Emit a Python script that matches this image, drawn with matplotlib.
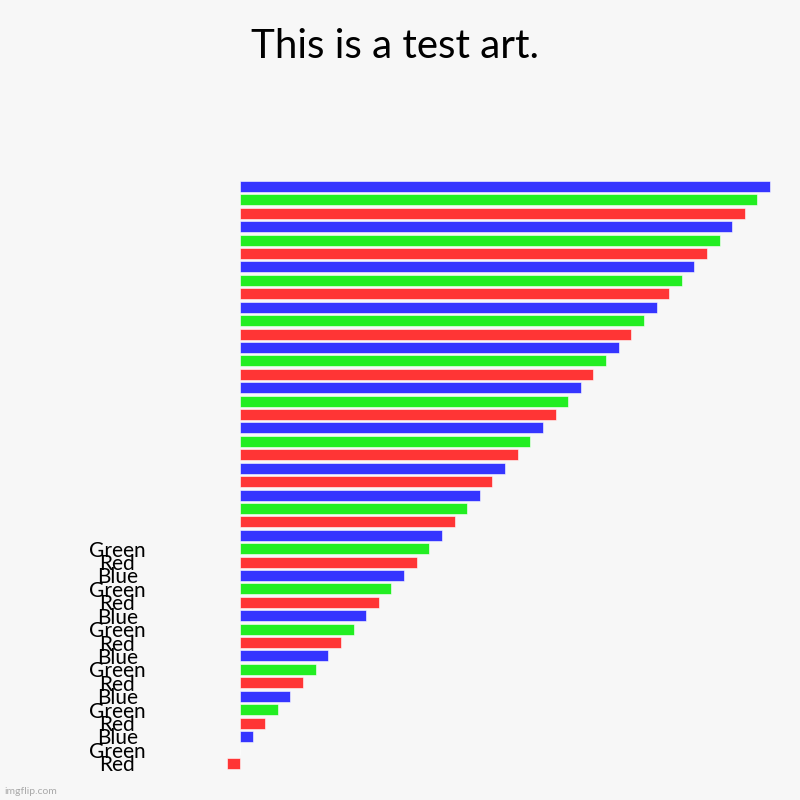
import matplotlib
matplotlib.use('Agg')
import matplotlib.pyplot as plt

# Bar data, listed bottom to top
values = list(range(-1, 43))
colors = ['Red', 'Green', 'Blue'] * 7 + ['Red', 'Blue'] + ['Red', 'Green', 'Blue'] * 7
# only the lowest 17 bars carry a label in the original
labels = ['Red', 'Green', 'Blue', 'Red', 'Green', 'Blue', 'Red', 'Green', 'Blue',
          'Red', 'Green', 'Blue', 'Red', 'Green', 'Blue', 'Red', 'Green'] + [''] * 27

palette = {'Red': '#ff3535', 'Green': '#22ee22', 'Blue': '#3535ff'}

bg = '#f7f7f7'
plt.rcParams['font.family'] = ['Lato', 'DejaVu Sans']

fig = plt.figure(figsize=(8, 8), dpi=100, facecolor=bg)
ax = fig.add_axes([0.27, 0.0308, 0.71, 0.7495])
ax.set_facecolor(bg)

pos = range(len(values))
ax.barh(pos, values, height=0.82, color=[palette[c] for c in colors],
        edgecolor='white', linewidth=0.4, zorder=2)

ax.set_xlim(-1.9, 43.1)
ax.set_ylim(-0.9, 43.8)

# Labels centred left of the bars
ax.set_yticks(list(pos))
ax.set_yticklabels(labels, fontsize=15, ha='center')
ax.tick_params(axis='y', length=0, pad=71)
ax.tick_params(axis='x', length=0, labelbottom=False)

# No borders
for s in ax.spines.values():
    s.set_visible(False)

# Title
fig.text(0.494, 0.942, 'This is a test art.', ha='center', va='center', fontsize=29)

# Watermark
fig.text(0.006, 0.011, 'imgflip.com', ha='left', va='center', fontsize=7.5, color='#aaaaaa')

plt.savefig('out.png', dpi=100, facecolor=bg)
